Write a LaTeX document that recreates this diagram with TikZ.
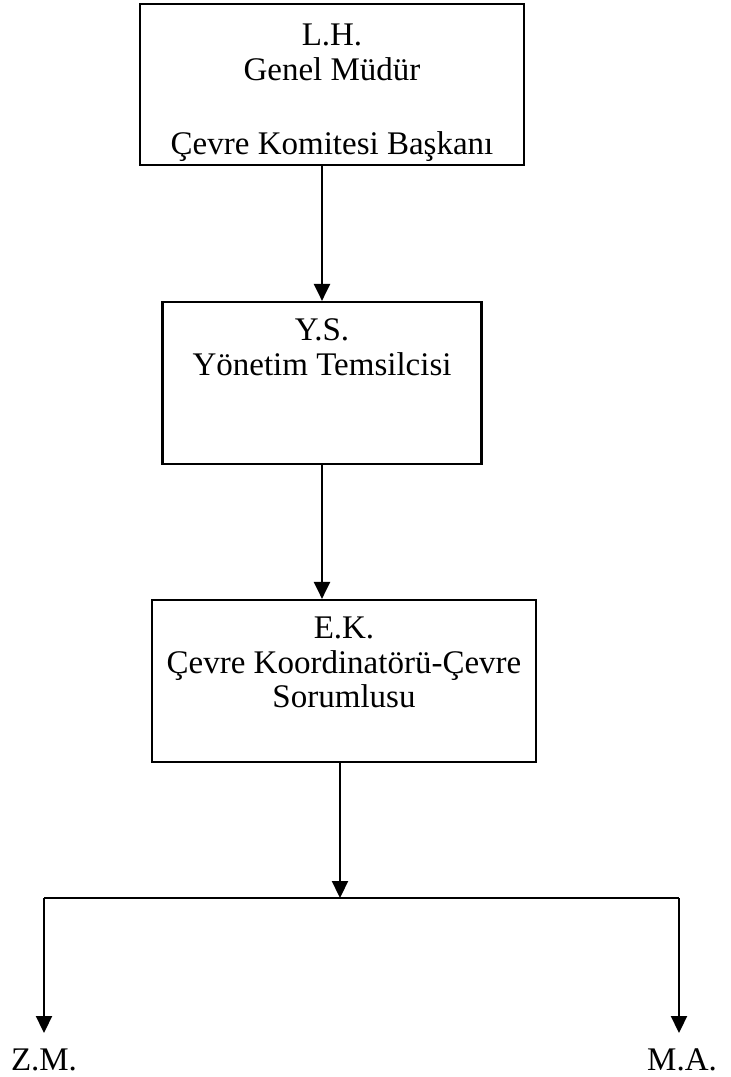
\documentclass[tikz,border=0pt]{standalone}
\usepackage{fontspec}
\setmainfont{Liberation Serif}
\usetikzlibrary{arrows.meta}
\begin{document}
\begin{tikzpicture}[x=1pt,y=-1pt,
  box/.style={draw, line width=2.2pt, minimum width=#1, inner sep=0pt},
  txt/.style={anchor=north, align=center, inner sep=0pt,
    font=\fontsize{33}{34.5}\selectfont},
  lead/.style={line width=2.2pt, -{Triangle[length=17pt,width=16pt]}},
  plain/.style={line width=2.2pt}
]
\useasboundingbox (0,0) rectangle (731,1077);
% boxes
\node[box=384pt, minimum height=161pt] (b1) at (332,84.5) {};
\node[box=319pt, minimum height=162pt] (b2) at (322,383) {};
\node[box=384pt, minimum height=162pt] (b3) at (344,681) {};
% box texts
\node[txt] (t1) at ([yshift=-21pt]b1.north) {L.H.\\Genel Müdür\\[40pt]Çevre Komitesi Başkanı};
\node[txt] (t2) at ([yshift=-18pt]b2.north) {Y.S.\\Yönetim Temsilcisi};
\node[txt] (t3) at ([yshift=-18pt]b3.north) {E.K.\\Çevre Koordinatörü-Çevre\\Sorumlusu};
% connectors
\coordinate (a1) at (322,165);
\coordinate (a2) at (322,464);
\coordinate (a3) at (340,762);
\coordinate (j) at (340,898);
\coordinate (jl) at (44,898);
\coordinate (jr) at (679,898);
\node[txt, anchor=center] (zm) at (44,1060) {Z.M.};
\node[txt, anchor=center] (ma) at (682,1060) {M.A.};
\coordinate (el) at (44,1033);
\coordinate (er) at (679,1033);
\draw[lead] (a1) -- (b2.north -| a1);
\draw[lead] (a2) -- (b3.north -| a2);
\draw[lead] (a3) -- (j);
\draw[plain] (jl) -- (jr);
\draw[lead] (jl) -- (el);
\draw[lead] (jr) -- (er);
\end{tikzpicture}
\end{document}
